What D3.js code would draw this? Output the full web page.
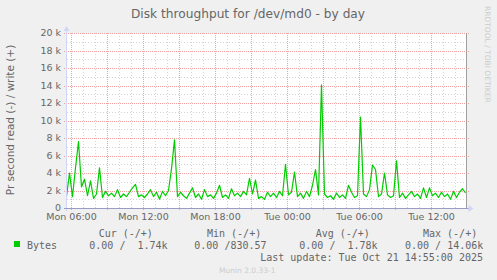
<!DOCTYPE html>
<html>
<head>
<meta charset="utf-8">
<script src="https://cdn.jsdelivr.net/npm/d3@7/dist/d3.min.js"></script>
<style>
  body { margin: 0; background: #f0f0f0; }
  svg { display: block; }
  text { fill: #666; }
</style>
</head>
<body>
<div id="chart"></div>
<script>
// ===== DATA =====
const title = "Disk throughput for /dev/md0 - by day";
const yLabel = "Pr second read (-) / write (+)";
const startTime = new Date(2025, 9, 20, 5, 40);   // Mon 05:40
const endTime = new Date(2025, 9, 21, 15, 0);     // Tue 15:00
const stepMinutes = 15;
// write bytes per second, in thousands, one value every 15 minutes from Mon 05:40
const writeK = [
  1.3, 4.0, 1.3, 4.6, 7.6, 2.4, 3.3, 1.4, 3.1, 1.1,
  1.6, 4.6, 1.2, 1.9, 1.4, 1.7, 1.3, 2.1, 1.2, 1.6,
  1.3, 1.8, 2.3, 2.7, 1.3, 1.5, 1.2, 1.6, 2.1, 1.3,
  1.8, 1.0, 1.9, 1.4, 2.0, 4.5, 7.8, 1.3, 1.8, 1.4,
  1.1, 1.7, 2.3, 1.2, 1.6, 1.0, 2.1, 1.3, 1.5, 1.1,
  1.7, 2.6, 1.2, 1.5, 1.1, 2.2, 1.4, 1.7, 1.3, 1.9,
  1.5, 3.4, 1.6, 3.2, 1.1, 1.3, 1.0, 1.8, 1.3, 1.7,
  1.2, 1.9, 1.4, 5.0, 1.5, 1.8, 4.1, 1.3, 1.7, 1.1,
  1.9, 1.3, 2.6, 4.4, 1.5, 14.06, 1.6, 1.2, 1.4, 1.0,
  1.7, 1.2, 1.5, 1.1, 2.6, 1.8, 1.2, 1.4, 10.4, 1.6,
  1.3, 2.1, 4.9, 4.4, 1.3, 1.6, 4.0, 1.5, 1.2, 1.4,
  5.4, 1.2, 1.7, 1.1, 1.5, 1.9, 1.3, 1.6, 1.1, 2.3,
  1.2, 2.3, 1.4, 1.7, 1.2, 1.8, 1.3, 1.6, 1.0, 1.9,
  1.2, 1.8, 2.2, 1.74
];
const yTicks = [0, 2000, 4000, 6000, 8000, 10000, 12000, 14000, 16000, 18000, 20000];
const legendHeaders = ["Cur (-/+)", "Min (-/+)", "Avg (-/+)", "Max (-/+)"];
const legendValues = ["0.00 /  1.74k", "0.00 /830.57", "0.00 /  1.78k", "0.00 / 14.06k"];
const seriesName = "Bytes";
const lastUpdate = "Last update: Tue Oct 21 14:55:00 2025";

// ===== SIZE =====
const width = 497, height = 280;
const plot = { left: 66.5, right: 466.5, top: 33, bottom: 208 };

const svg = d3.select("#chart").append("svg")
  .attr("width", width)
  .attr("height", height)
  .style("font-family", "'DejaVu Sans', sans-serif");

svg.append("rect").attr("width", width).attr("height", height).attr("fill", "#f0f0f0");
svg.append("rect")
  .attr("x", plot.left).attr("y", plot.top)
  .attr("width", plot.right - plot.left).attr("height", plot.bottom - plot.top)
  .attr("fill", "#ffffff");

const x = d3.scaleTime().domain([startTime, endTime]).range([plot.left, plot.right]);
const y = d3.scaleLinear().domain([0, 20000]).range([plot.bottom, plot.top]);

const points = writeK.map((v, i) => ({
  t: d3.timeMinute.offset(startTime, i * stepMinutes),
  v: v * 1000
}));

const grid = svg.append("g").attr("shape-rendering", "crispEdges");

// minor grid
const hours = d3.timeHour.range(startTime, endTime);
grid.selectAll("line.vminor")
  .data(hours.filter(d => d.getHours() % 3 !== 0))
  .join("line")
  .attr("x1", d => Math.round(x(d)) + 0.5).attr("x2", d => Math.round(x(d)) + 0.5)
  .attr("y1", plot.top).attr("y2", plot.bottom)
  .attr("stroke", "#d4d4d4").attr("stroke-dasharray", "1,2");

grid.selectAll("line.hminor")
  .data(d3.range(1000, 20001, 2000))
  .join("line")
  .attr("x1", plot.left).attr("x2", plot.right)
  .attr("y1", d => Math.round(y(d)) + 0.5).attr("y2", d => Math.round(y(d)) + 0.5)
  .attr("stroke", "#d4d4d4").attr("stroke-dasharray", "1,2");

// major grid
const majors = hours.filter(d => d.getHours() % 3 === 0);
grid.selectAll("line.vmajor")
  .data(majors)
  .join("line")
  .attr("x1", d => Math.round(x(d)) + 0.5).attr("x2", d => Math.round(x(d)) + 0.5)
  .attr("y1", plot.top).attr("y2", plot.bottom + 3)
  .attr("stroke", "#f2a0a0").attr("stroke-dasharray", "1,1");

grid.selectAll("line.hmajor")
  .data(yTicks.slice(1))
  .join("line")
  .attr("x1", plot.left - 3).attr("x2", plot.right + 2)
  .attr("y1", d => Math.round(y(d)) + 0.5).attr("y2", d => Math.round(y(d)) + 0.5)
  .attr("stroke", "#f2a0a0").attr("stroke-dasharray", "1,1");

// y tick labels
svg.selectAll("text.ytick")
  .data(yTicks)
  .join("text")
  .attr("x", 61)
  .attr("y", d => y(d) + 3)
  .attr("text-anchor", "end")
  .style("font-size", "9.5px")
  .text(d => d === 0 ? "0" : (d / 1000) + " k");

// x tick labels
const fmt = d3.timeFormat("%a %H:%M");
svg.selectAll("text.xtick")
  .data(hours.filter(d => d.getHours() % 6 === 0))
  .join("text")
  .attr("x", d => x(d) + 1)
  .attr("y", 219.5)
  .attr("text-anchor", "middle")
  .style("font-size", "9.5px")
  .text(d => fmt(d));

// right frame
svg.append("line")
  .attr("x1", plot.right).attr("x2", plot.right)
  .attr("y1", plot.top).attr("y2", plot.bottom)
  .attr("stroke", "#a0a0a0").attr("shape-rendering", "crispEdges");

// data line
const line = d3.line().x(d => x(d.t)).y(d => y(d.v));
svg.append("path")
  .datum(points)
  .attr("d", line)
  .attr("fill", "none")
  .attr("stroke", "#00cc00")
  .attr("stroke-width", 1.2)
  .attr("stroke-linejoin", "round");

// axes with arrows
svg.append("line")
  .attr("x1", plot.left).attr("x2", plot.left)
  .attr("y1", plot.bottom + 3).attr("y2", plot.top - 4)
  .attr("stroke", "#cfd6f8").attr("shape-rendering", "crispEdges");
svg.append("path")
  .attr("d", `M${plot.left - 3},${plot.top - 2} L${plot.left + 3},${plot.top - 2} L${plot.left},${plot.top - 7} Z`)
  .attr("fill", "#cfd6f8");
svg.append("line")
  .attr("x1", plot.left - 3).attr("x2", plot.right + 4)
  .attr("y1", plot.bottom + 0.5).attr("y2", plot.bottom + 0.5)
  .attr("stroke", "#9a9cc4").attr("shape-rendering", "crispEdges");
svg.append("path")
  .attr("d", `M${plot.right + 2},${plot.bottom - 3} L${plot.right + 2},${plot.bottom + 4} L${plot.right + 7},${plot.bottom + 0.5} Z`)
  .attr("fill", "#cfd6f8");

// title and labels
svg.append("text")
  .attr("x", 248).attr("y", 18)
  .attr("text-anchor", "middle")
  .style("font-size", "12.2px")
  .text(title);

svg.append("text")
  .attr("transform", "translate(14,120) rotate(-90)")
  .attr("text-anchor", "middle")
  .style("font-size", "10.5px")
  .text(yLabel);

svg.append("text")
  .attr("transform", "translate(485,6) rotate(90)")
  .attr("text-anchor", "start")
  .style("font-size", "7.5px")
  .style("fill", "#cccccc")
  .text("RRDTOOL / TOBI OETIKER");

// legend
const mono = "'DejaVu Sans Mono', monospace";
svg.append("rect")
  .attr("x", 14).attr("y", 241).attr("width", 6).attr("height", 6)
  .attr("fill", "#00cc00");
svg.append("text")
  .attr("x", 27).attr("y", 249)
  .style("font-family", mono).style("font-size", "10px")
  .text(seriesName);

const headerX = [98.7, 207, 315.7, 423];
const valueX = [89.3, 194.3, 299.3, 405];
svg.selectAll("text.lhead")
  .data(legendHeaders)
  .join("text")
  .attr("x", (d, i) => headerX[i]).attr("y", 237)
  .style("font-family", mono).style("font-size", "10px")
  .style("white-space", "pre").attr("xml:space", "preserve")
  .text(d => d);
svg.selectAll("text.lval")
  .data(legendValues)
  .join("text")
  .attr("x", (d, i) => valueX[i]).attr("y", 249)
  .style("font-family", mono).style("font-size", "10px")
  .style("white-space", "pre").attr("xml:space", "preserve")
  .text(d => d);

svg.append("text")
  .attr("x", 483).attr("y", 261)
  .attr("text-anchor", "end")
  .style("font-family", mono).style("font-size", "10px")
  .style("white-space", "pre")
  .text(lastUpdate);

svg.append("text")
  .attr("x", 219).attr("y", 273)
  .style("font-size", "7.5px")
  .style("fill", "#cccccc")
  .text("Munin 2.0.33-1");
</script>
</body>
</html>
